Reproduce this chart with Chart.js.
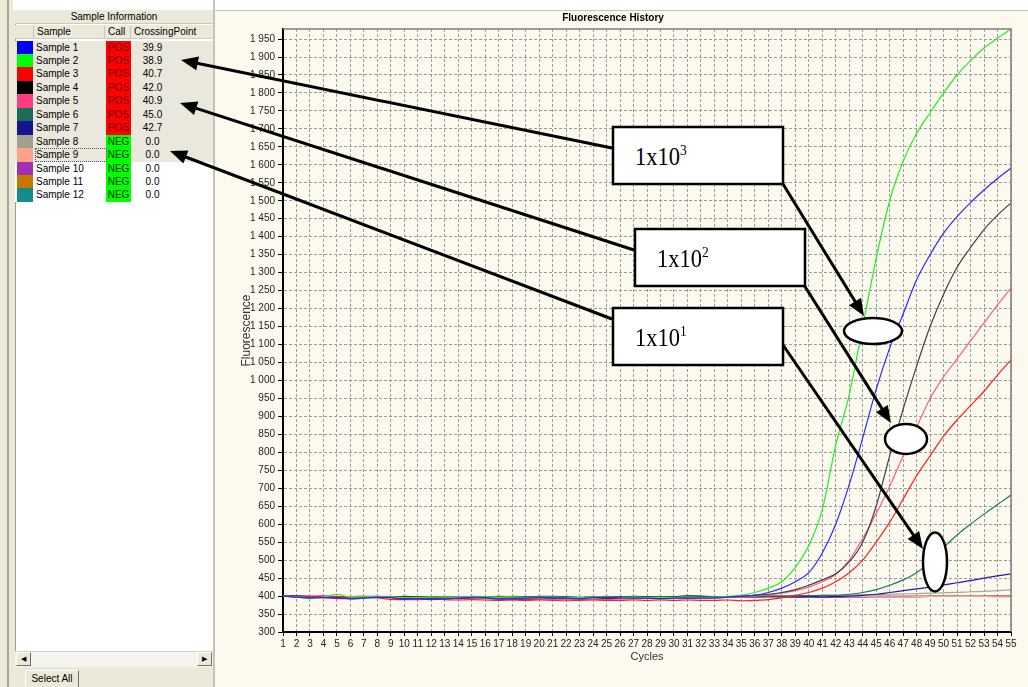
<!DOCTYPE html>
<html>
<head>
<meta charset="utf-8">
<title>Fluorescence History</title>
<script src="https://cdn.jsdelivr.net/npm/chart.js@4/dist/chart.umd.min.js"></script>
<style>
  body { margin: 0; width: 1028px; height: 687px; overflow: hidden; position: relative; background: #fff;
         font-family: "Liberation Sans", Arial, sans-serif; font-size: 10px; color: #000; }
  .abs { position: absolute; }
  #left { left: 0; top: 0; width: 213px; height: 687px; background: #ece9d8; }
  #topWhite { left: 13px; top: 0; width: 1015px; height: 10px; background: #fff; }
  #tbl { left: 15px; top: 10px; width: 198px; height: 641px; background: #fff; border-left: 1px solid #9d9a8c; box-sizing: border-box; }
  .hdr { left: 15px; width: 198px; height: 14px; background: #ece9d8; border-bottom: 1px solid #cfcbbd; box-sizing: border-box; }
  .cell { position: absolute; white-space: nowrap; line-height: 13px; }
  .sep { position: absolute; top: 1px; width: 1px; height: 12px; background: #c9c6b8; }
  .row { position: absolute; left: 15px; width: 198px; height: 13.5px; }
  #panel { left: 215px; top: 10px; width: 813px; height: 677px; background: #fcf9ee; border-top: 1px solid #c6c3b6; box-sizing: border-box; }
  #divider { left: 213px; top: 0; width: 2px; height: 687px; background: #c6c3b6; }
  #fluorChart { position: absolute; left: 215px; top: 10px; }
  #notes { position: absolute; left: 0; top: 0; pointer-events: none; }
</style>
</head>
<body>
<div id="left" class="abs"></div>
<div class="abs" style="left:7px;top:0;width:2px;height:687px;background:#a9a699"></div>
<div id="topWhite" class="abs"></div>
<div id="tbl" class="abs"></div>
<div class="abs hdr" style="top:10px;text-align:center;line-height:14px">Sample Information</div>
<div class="abs hdr" style="top:25px">
  <span class="sep" style="left:18px"></span>
  <span class="cell" style="left:22px">Sample</span>
  <span class="sep" style="left:89px"></span>
  <span class="cell" style="left:93px">Call</span>
  <span class="sep" style="left:115px"></span>
  <span class="cell" style="left:119px">CrossingPoint</span>
</div>
<div id="rows"></div>
<div class="abs" style="left:15px;top:651px;width:198px;height:16px;background:#f4f3ee;border-top:1px solid #d6d3c6;box-sizing:border-box"></div>
<div class="abs" style="left:16px;top:652px;width:15px;height:14px;background:#ece9d8;border:1px solid #fff;border-right-color:#716f64;border-bottom-color:#716f64;box-sizing:border-box;font-size:7px;line-height:12px;text-align:center">&#9664;</div>
<div class="abs" style="left:197px;top:652px;width:15px;height:14px;background:#ece9d8;border:1px solid #fff;border-right-color:#716f64;border-bottom-color:#716f64;box-sizing:border-box;font-size:7px;line-height:12px;text-align:center">&#9654;</div>
<div class="abs" style="left:25px;top:670px;width:54px;height:17px;background:#ece9d8;border:1px solid #fff;border-right-color:#716f64;border-bottom:none;box-sizing:border-box;text-align:center;line-height:16px">Select All</div>
<div id="divider" class="abs"></div>
<div id="panel" class="abs"></div>
<canvas id="fluorChart" width="813" height="677"></canvas>
<svg id="notes" width="1028" height="687" xmlns="http://www.w3.org/2000/svg"></svg>

<script>
// sample table
const sampleNames = ["Sample 1", "Sample 2", "Sample 3", "Sample 4", "Sample 5", "Sample 6",
                     "Sample 7", "Sample 8", "Sample 9", "Sample 10", "Sample 11", "Sample 12"];
const sampleColors = ["#0000ff", "#00ff00", "#ff0000", "#000000", "#ff3c82", "#1a6e55",
                      "#14148c", "#a0a08c", "#ffa08c", "#a030b4", "#c87800", "#148c8c"];
const lineColors = ["#2a2aff", "#20f020", "#ff2020", "#404040", "#ff5a90", "#1a7a5a",
                    "#2020a0", "#a8a890", "#ffa890", "#a040b8", "#c88010", "#209090"];
const calls = ["POS", "POS", "POS", "POS", "POS", "POS", "POS", "NEG", "NEG", "NEG", "NEG", "NEG"];
const crossingPoints = ["39.9", "38.9", "40.7", "42.0", "40.9", "45.0", "42.7", "0.0", "0.0", "0.0", "0.0", "0.0"];

// x axis categories
const cycles = [1, 2, 3, 4, 5, 6, 7, 8, 9, 10, 11, 12, 13, 14, 15, 16, 17, 18, 19, 20,
                21, 22, 23, 24, 25, 26, 27, 28, 29, 30, 31, 32, 33, 34, 35, 36, 37, 38, 39, 40,
                41, 42, 43, 44, 45, 46, 47, 48, 49, 50, 51, 52, 53, 54, 55];

// fluorescence per cycle
const sample1 = [400, 397, 395, 396, 396, 392, 394, 397, 396, 391,
                 393, 390, 392, 394, 396, 395, 392, 393, 394, 396,
                 395, 394, 393, 396, 396, 395, 394, 394, 393, 394,
                 395, 394, 395, 397, 400, 403, 410, 422, 440, 465,
                 520, 600, 710, 840, 975, 1090, 1185, 1280, 1350, 1410,
                 1456, 1495, 1530, 1562, 1591];
const sample2 = [400, 398, 393, 397, 405, 397, 398, 399, 397, 396,
                 396, 397, 398, 396, 397, 398, 397, 398, 396, 397,
                 397, 396, 396, 397, 397, 396, 397, 396, 396, 396,
                 397, 396, 397, 399, 402, 410, 422, 440, 480, 540,
                 640, 820, 960, 1150, 1340, 1500, 1610, 1688, 1745, 1800,
                 1850, 1890, 1925, 1952, 1978];
const sample3 = [400, 399, 398, 399, 398, 396, 397, 395, 391, 390,
                 390, 391, 390, 389, 390, 389, 388, 389, 388, 389,
                 388, 387, 388, 389, 388, 388, 389, 388, 389, 388,
                 389, 388, 388, 389, 387, 388, 390, 395, 402, 410,
                 422, 440, 465, 500, 550, 605, 670, 735, 790, 845,
                 890, 930, 970, 1015, 1057];
const sample4 = [400, 401, 399, 398, 398, 396, 397, 398, 397, 399,
                 398, 397, 398, 396, 395, 397, 399, 398, 397, 399,
                 399, 398, 396, 397, 398, 398, 399, 398, 397, 398,
                 401, 400, 398, 398, 400, 402, 405, 410, 418, 430,
                 445, 462, 495, 550, 650, 790, 920, 1040, 1150, 1240,
                 1315, 1370, 1420, 1460, 1494];
const sample5 = [400, 399, 400, 401, 399, 398, 400, 399, 398, 397,
                 398, 397, 396, 397, 398, 395, 396, 394, 393, 392,
                 391, 390, 392, 391, 390, 392, 393, 394, 393, 395,
                 396, 395, 396, 397, 398, 400, 403, 408, 415, 425,
                 440, 460, 500, 560, 630, 705, 790, 870, 950, 1010,
                 1060, 1110, 1160, 1210, 1257];
const sample6 = [400, 399, 398, 397, 398, 397, 396, 398, 397, 396,
                 397, 396, 397, 396, 399, 398, 397, 399, 398, 397,
                 398, 397, 396, 397, 399, 397, 396, 397, 398, 397,
                 397, 398, 397, 398, 399, 399, 400, 400, 401, 401,
                 402, 402, 405, 410, 418, 430, 445, 465, 495, 535,
                 570, 600, 628, 655, 681];
const sample7 = [400, 398, 396, 396, 395, 394, 396, 397, 396, 394,
                 395, 394, 395, 394, 396, 397, 395, 393, 392, 392,
                 393, 394, 392, 391, 393, 394, 395, 394, 395, 396,
                 395, 396, 397, 397, 398, 398, 399, 399, 398, 399,
                 398, 399, 400, 402, 405, 410, 415, 420, 425, 431,
                 437, 443, 450, 456, 462];
const sample8 = [400, 399, 398, 398, 397, 397, 398, 397, 396, 397,
                 396, 397, 396, 397, 397, 396, 397, 396, 397, 396,
                 397, 396, 397, 396, 397, 396, 396, 397, 396, 397,
                 396, 397, 397, 398, 398, 399, 399, 400, 400, 401,
                 402, 402, 403, 404, 404, 405, 406, 407, 408, 409,
                 410, 412, 413, 415, 417];
const sample9 = [400, 399, 399, 398, 398, 397, 398, 397, 397, 396,
                 396, 396, 395, 396, 395, 396, 395, 395, 396, 395,
                 395, 393, 394, 395, 394, 395, 396, 395, 396, 396,
                 396, 397, 397, 397, 398, 398, 398, 399, 399, 399,
                 399, 399, 399, 399, 400, 400, 400, 399, 399, 399,
                 399, 399, 399, 398, 398];
const sample10 = [400, 398, 396, 395, 393, 393, 394, 396, 395, 394,
                  393, 393, 394, 393, 394, 394, 391, 390, 390, 392,
                  393, 392, 390, 391, 393, 394, 393, 394, 395, 394,
                  394, 395, 395, 396, 396, 397, 397, 397, 397, 396,
                  396, 396, 397, 397, 398, 398, 398, 398, 399, 399,
                  399, 399, 399, 399, 399];
const sample11 = [400, 399, 398, 398, 397, 397, 398, 398, 397, 397,
                  396, 396, 397, 396, 396, 397, 396, 396, 395, 396,
                  396, 395, 396, 396, 395, 396, 396, 397, 396, 396,
                  397, 397, 397, 398, 398, 398, 398, 398, 399, 399,
                  399, 399, 399, 399, 399, 399, 400, 400, 400, 400,
                  400, 400, 400, 400, 400];
const sample12 = [400, 399, 398, 397, 397, 396, 397, 398, 397, 396,
                  396, 397, 396, 397, 396, 396, 397, 396, 397, 396,
                  397, 396, 396, 397, 396, 396, 397, 396, 396, 397,
                  396, 397, 397, 397, 398, 398, 398, 398, 398, 399,
                  399, 399, 399, 399, 399, 399, 399, 399, 400, 400,
                  400, 400, 400, 400, 400];
const allSamples = [sample1, sample2, sample3, sample4, sample5, sample6,
                    sample7, sample8, sample9, sample10, sample11, sample12];

// y axis range
const yMin = 300;
const yMax = 1978;
const yStep = 50;

// ---- left table ----
const rowsDiv = document.getElementById("rows");
sampleNames.forEach((name, i) => {
  const top = 40.5 + i * 13.45;
  const row = document.createElement("div");
  row.className = "row";
  row.style.top = top + "px";
  row.style.background = i < 9 ? "#eae8dc" : "#fff";
  const pos = calls[i] === "POS";
  row.innerHTML =
    '<span class="cell" style="left:2px;top:0;width:16px;height:13.5px;background:' + sampleColors[i] + '"></span>' +
    '<span class="cell" style="left:21px;top:0">' + name + '</span>' +
    '<span class="cell" style="left:91px;top:0;width:25px;height:13.5px;background:' + (pos ? "#ff0000" : "#00ff00") +
    ';color:' + (pos ? "#6a0000" : "#003000") + ';text-align:center">' + calls[i] + '</span>' +
    '<span class="cell" style="left:120px;top:0;width:35px;text-align:center">' + crossingPoints[i] + '</span>';
  if (name === "Sample 9") {
    row.innerHTML += '<span class="cell" style="left:20px;top:0;width:70px;height:12px;border:1px dotted #555"></span>';
  }
  rowsDiv.appendChild(row);
});

// ---- chart ----
function fmtThousands(v) {
  if (v >= 1000) return Math.floor(v / 1000) + " " + String(v % 1000).padStart(3, "0");
  return String(v);
}

const plotFrame = {
  id: "plotFrame",
  afterDraw(chart) {
    const { ctx, chartArea: a } = chart;
    ctx.save();
    ctx.strokeStyle = "#7d7d7d";
    ctx.lineWidth = 1.5;
    ctx.beginPath();
    ctx.moveTo(a.left, a.top);
    ctx.lineTo(a.right, a.top);
    ctx.lineTo(a.right, a.bottom);
    ctx.stroke();
    ctx.restore();
  }
};

const font = "'Liberation Sans', Arial, sans-serif";
const ctx = document.getElementById("fluorChart").getContext("2d");
new Chart(ctx, {
  type: "line",
  data: {
    labels: cycles,
    datasets: allSamples.map((vals, i) => ({
      label: sampleNames[i],
      data: vals,
      borderColor: lineColors[i],
      borderWidth: 1.2,
      pointRadius: 0,
      cubicInterpolationMode: "monotone",
      fill: false
    }))
  },
  options: {
    responsive: false,
    animation: false,
    layout: { padding: { left: 0, right: 17, top: 0, bottom: 0 } },
    plugins: {
      legend: { display: false },
      tooltip: { enabled: false },
      title: {
        display: true,
        text: "Fluorescence History",
        color: "#000",
        font: { family: font, size: 10, weight: "bold" },
        padding: { top: 2, bottom: 5 }
      }
    },
    scales: {
      x: {
        type: "category",
        offset: false,
        grid: { color: "#9c9c9c", lineWidth: 1, offset: false, tickLength: 4, tickColor: "#000", tickBorderDash: [] },
        border: { color: "#000", width: 2, dash: [3, 2] },
        ticks: { autoSkip: false, maxRotation: 0, minRotation: 0, padding: 2, color: "#222",
                 font: { family: font, size: 10 } },
        title: { display: true, text: "Cycles", color: "#333", font: { family: font, size: 11 },
                 padding: { top: 0, bottom: 23 } },
        afterFit(scale) { scale.height = 55; }
      },
      y: {
        type: "linear",
        min: yMin,
        max: yMax,
        grid: { color: "#9c9c9c", lineWidth: 1, tickLength: 5, tickColor: "#000", tickBorderDash: [] },
        border: { color: "#000", width: 2, dash: [3, 2] },
        ticks: { stepSize: yStep, includeBounds: false, autoSkip: false, padding: 3, color: "#222",
                 font: { family: font, size: 10 }, callback: v => fmtThousands(v) },
        title: { display: true, text: "Fluorescence", color: "#333", font: { family: font, size: 12 },
                 padding: { top: 24, bottom: 0 } },
        afterFit(scale) { scale.width = 68; }
      }
    }
  },
  plugins: [plotFrame]
});

// ---- call-out annotations ----
const NS = "http://www.w3.org/2000/svg";
const svg = document.getElementById("notes");
function add(tag, attrs, parent) {
  const e = document.createElementNS(NS, tag);
  for (const k in attrs) e.setAttribute(k, attrs[k]);
  (parent || svg).appendChild(e);
  return e;
}
function arrow(x1, y1, x2, y2) {
  const dx = x2 - x1, dy = y2 - y1, len = Math.hypot(dx, dy);
  const ux = dx / len, uy = dy / len, hl = 17, hw = 7;
  const bx = x2 - ux * hl, by = y2 - uy * hl;
  add("line", { x1, y1, x2: bx + ux * 3, y2: by + uy * 3, stroke: "#000", "stroke-width": 3 });
  add("polygon", { points: [x2, y2, bx - uy * hw, by + ux * hw, bx + uy * hw, by - ux * hw].join(" "), fill: "#000" });
}
function box(x, y, w, h, exp) {
  add("rect", { x, y, width: w, height: h, fill: "#fff", stroke: "#000", "stroke-width": 2.5 });
  const t = add("text", { transform: "translate(" + (x + 22) + "," + (y + 38) + ") scale(1,1.14)",
                          "font-family": "'Liberation Serif', 'Times New Roman', serif", "font-size": 22.5, fill: "#000" });
  t.appendChild(document.createTextNode("1x10"));
  const s = add("tspan", { dy: -9, "font-size": 13.5 }, t);
  s.appendChild(document.createTextNode(exp));
}
function oval(cx, cy, rx, ry) {
  add("ellipse", { cx, cy, rx, ry, fill: "#fff", stroke: "#000", "stroke-width": 2.5 });
}

arrow(612, 148, 181, 60);
arrow(634, 250, 180, 103);
arrow(612, 319, 170, 151);
arrow(783, 184, 864, 316);
arrow(804, 285, 891, 423);
arrow(783, 345, 923, 549);
box(613, 127, 170, 57, "3");
box(635, 229, 170, 57, "2");
box(613, 308, 170, 57, "1");
oval(873, 331, 29, 13);
oval(906, 439, 21, 15);
oval(935, 562, 12, 29.5);
</script>
</body>
</html>
